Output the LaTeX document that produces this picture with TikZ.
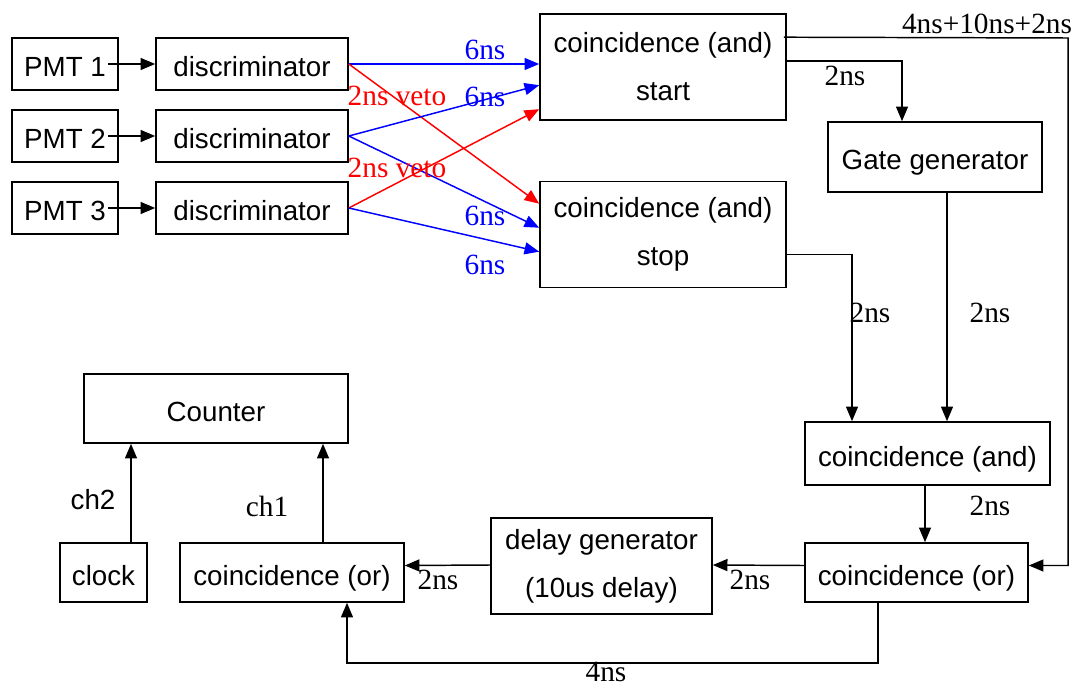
\documentclass[tikz,border=0pt]{standalone}
\usepackage{fontspec}
\setmainfont{Liberation Serif}
\setsansfont{Liberation Sans}
\usetikzlibrary{arrows.meta,calc}

\tikzset{every picture/.style={line width=1.1pt}}
\tikzset{
  box/.style={draw,line width=1.2pt,inner sep=0pt,align=center,
    font=\sffamily\fontsize{20.8}{36}\selectfont},
  onebox/.style={box,text height=19pt,text depth=0pt},
  lbl/.style={inner sep=0pt,font=\fontsize{22}{26}\selectfont},
  sbl/.style={inner sep=0pt,font=\sffamily\fontsize{20.8}{26}\selectfont},
  link/.style={-{Triangle[length=11pt,width=9pt]}},
  bluelink/.style={link,color=blue},
  redlink/.style={link,color=red}
}

\begin{document}
\begin{tikzpicture}[x=0.75pt,y=0.75pt,yscale=-1,xscale=1]
\useasboundingbox (0,0) rectangle (1084,688);

% PMTs and discriminators
\node[onebox,minimum width=79.5pt,minimum height=39pt] (pmt1) at (65,64) {PMT 1};
\node[onebox,minimum width=79.5pt,minimum height=39pt] (pmt2) at (65,136) {PMT 2};
\node[onebox,minimum width=79.5pt,minimum height=39pt] (pmt3) at (65,208) {PMT 3};
\node[onebox,minimum width=144pt,minimum height=39pt] (dsc1) at (252,64) {discriminator};
\node[onebox,minimum width=144pt,minimum height=39pt] (dsc2) at (252,136) {discriminator};
\node[onebox,minimum width=144pt,minimum height=39pt] (dsc3) at (252,208) {discriminator};

% Coincidence units
\node[box,minimum width=184.5pt,minimum height=79.5pt] (start) at (663,67) {coincidence (and)\\start};
\node[box,minimum width=184.5pt,minimum height=79.5pt] (stop) at (663,234.5) {coincidence (and)\\stop};
\node[onebox,minimum width=160.5pt,minimum height=52.5pt] (gate) at (935,157) {Gate generator};
\node[onebox,minimum width=183.75pt,minimum height=47.25pt] (andc) at (927.5,453.5) {coincidence (and)};
\node[onebox,minimum width=167.25pt,minimum height=44.25pt] (orR) at (916.5,572.5) {coincidence (or)};
\node[box,minimum width=165.75pt,minimum height=72pt] (delay) at (601.5,566) {delay generator\\(10us delay)};
\node[onebox,minimum width=168pt,minimum height=44.25pt] (orL) at (292,572.5) {coincidence (or)};
\node[onebox,minimum width=65.25pt,minimum height=44.25pt] (clock) at (103.5,572.5) {clock};
\node[onebox,minimum width=198pt,minimum height=51.75pt] (counter) at (216,408.5) {Counter};

% PMT -> discriminator
\draw[link] ([xshift=-8.25pt]pmt1.east) -- (dsc1.west);
\draw[link] ([xshift=-8.25pt]pmt2.east) -- (dsc2.west);
\draw[link] ([xshift=-8.25pt]pmt3.east) -- (dsc3.west);

% discriminator -> coincidence
\draw[bluelink] (dsc1.east) -- (start.west |- dsc1.east);
\draw[redlink] (dsc1.east) -- ($(stop.north west)+(0,23)$);
\draw[bluelink] (dsc2.east) -- ($(start.north west)+(0,72)$);
\draw[bluelink] (dsc2.east) -- ($(stop.north west)+(0,47)$);
\draw[redlink] (dsc3.east) -- ($(start.north west)+(0,96)$);
\draw[bluelink] (dsc3.east) -- ($(stop.north west)+(0,71)$);

% start / stop outputs
\coordinate (rtop) at (1068,38);
\draw[link] ($(start.north east)+(-3,24)$) -- (rtop) |- ($(orR.east)+(0,-7)$);
\draw[link] ($(start.north east)+(0,48)$) -| ($(gate.north)+(-33,0)$);
\draw[link] ($(gate.south)+(12,0)$) -- ($(andc.north)+(19.5,0)$);
\draw[link] ($(stop.north east)+(0,74)$) -| ($(andc.north)+(-75.5,0)$);
\draw[link] ($(andc.south)+(-2.5,0)$) -- ($(orR.north)+(8.5,0)$);

% lower chain
\draw[link] ($(orR.west)+(0,-7)$) -- ($(delay.east)+(0,-1)$);
\draw[link] ($(delay.west)+(0,-1)$) -- ($(orL.east)+(0,-7)$);
\draw[link] ($(orR.south)+(-38.5,0)$) -- ++(0,60) -| ($(orL.south)+(55,0)$);
\draw[link] ($(orL.north)+(31,0)$) -- ($(counter.south)+(107,0)$);
\draw[link] ($(clock.north)+(27.5,0)$) -- ($(counter.south)+(-85,0)$);

% Text Node
\node[lbl,blue] (t6a) at (485,50) {6ns};
\node[lbl,blue] (t6b) at (485,97) {6ns};
\node[lbl,blue] (t6c) at (485,216) {6ns};
\node[lbl,blue] (t6d) at (485,265) {6ns};
\node[lbl,red] (tvetoa) at (397,96) {2ns veto};
\node[lbl,red] (tvetob) at (397,168) {2ns veto};
% Text Node
\node[lbl] (tsum) at (987,24) {4ns+10ns+2ns};
\node[lbl] (tgate) at (845,76) {2ns};
\node[lbl] (tstop) at (870,313) {2ns};
\node[lbl] (tgout) at (990,313) {2ns};
\node[lbl] (tand) at (990,506) {2ns};
\node[lbl] (tdel) at (750,580) {2ns};
\node[lbl] (tor) at (438,580) {2ns};
\node[lbl] (tback) at (606,672) {4ns};
\node[lbl] (tch1) at (267,506) {ch1};
\node[sbl] (tch2) at (93,500) {ch2};

\end{tikzpicture}
\end{document}
